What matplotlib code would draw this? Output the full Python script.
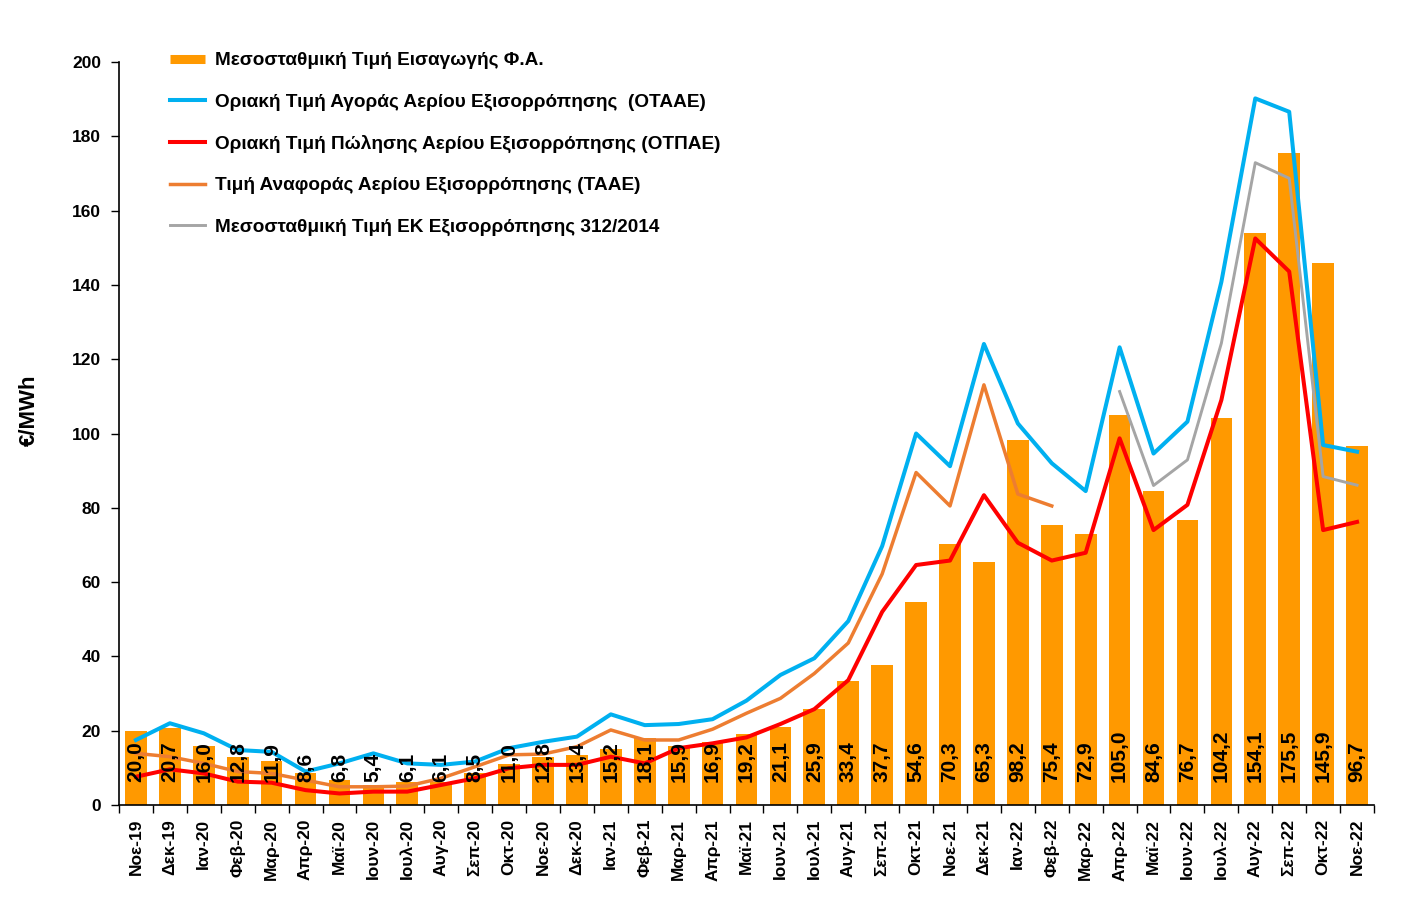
import matplotlib
matplotlib.use("Agg")
import matplotlib.pyplot as plt
from matplotlib.lines import Line2D
import numpy as np

plt.rcParams['font.family'] = ['Liberation Sans', 'DejaVu Sans']

categories = ["Νοε-19", "Δεκ-19", "Ιαν-20", "Φεβ-20", "Μαρ-20", "Απρ-20", "Μαϊ-20", "Ιουν-20",
              "Ιουλ-20", "Αυγ-20", "Σεπ-20", "Οκτ-20", "Νοε-20", "Δεκ-20", "Ιαν-21", "Φεβ-21",
              "Μαρ-21", "Απρ-21", "Μαϊ-21", "Ιουν-21", "Ιουλ-21", "Αυγ-21", "Σεπ-21", "Οκτ-21",
              "Νοε-21", "Δεκ-21", "Ιαν-22", "Φεβ-22", "Μαρ-22", "Απρ-22", "Μαϊ-22", "Ιουν-22",
              "Ιουλ-22", "Αυγ-22", "Σεπ-22", "Οκτ-22", "Νοε-22"]

import_price = [20.0, 20.7, 16.0, 12.8, 11.9, 8.6, 6.8, 5.4, 6.1, 6.1, 8.5, 11.0, 12.8, 13.4,
                15.2, 18.1, 15.9, 16.9, 19.2, 21.1, 25.9, 33.4, 37.7, 54.6, 70.3, 65.3, 98.2,
                75.4, 72.9, 105.0, 84.6, 76.7, 104.2, 154.1, 175.5, 145.9, 96.7]

otaae = [17.5, 22.0, 19.3, 14.8, 14.3, 9.0, 11.2, 13.9, 11.2, 10.8, 11.7, 15.3, 17.0, 18.4,
         24.4, 21.5, 21.8, 23.1, 28.1, 35.0, 39.5, 49.5, 69.7, 100.0, 91.2, 124.1, 102.7,
         92.0, 84.5, 123.2, 94.6, 103.2, 140.8, 190.2, 186.6, 96.9, 95.1]

otpae = [7.6, 9.6, 8.5, 6.3, 6.0, 4.0, 3.1, 3.6, 3.6, 5.4, 7.2, 9.9, 10.8, 10.8,
         13.0, 11.2, 15.3, 16.6, 18.2, 21.8, 25.8, 33.6, 52.0, 64.6, 65.8, 83.4, 70.6,
         65.8, 67.9, 98.7, 74.0, 80.8, 109.0, 152.5, 143.6, 74.0, 76.2]

taae = [13.9, 13.0, 11.2, 9.0, 8.5, 6.7, 4.9, 4.9, 5.1, 7.2, 10.3, 13.5, 13.7, 15.7,
        20.2, 17.5, 17.5, 20.4, 24.7, 28.7, 35.4, 43.6, 62.2, 89.5, 80.5, 113.1, 83.7,
        80.5, None, None, None, None, None, None, None, None, None]

ek = [None] * 29 + [111.3, 86.0, 92.9, 124.3, 172.9, 168.7, 88.4, 86.1]

labels = ["Μεσοσταθμική Τιμή Εισαγωγής Φ.Α.",
          "Οριακή Τιμή Αγοράς Αερίου Εξισορρόπησης  (ΟΤΑΑΕ)",
          "Οριακή Τιμή Πώλησης Αερίου Εξισορρόπησης (ΟΤΠΑΕ)",
          "Τιμή Αναφοράς Αερίου Εξισορρόπησης (ΤΑΑΕ)",
          "Μεσοσταθμική Τιμή ΕΚ Εξισορρόπησης 312/2014"]

c_bar = "#FF9900"
c_blue = "#00B0F0"
c_red = "#FF0000"
c_orange = "#ED7D31"
c_gray = "#A5A5A5"

def arr(v):
    return np.array([np.nan if x is None else x for x in v], dtype=float)

fig = plt.figure(figsize=(14.08, 9.02), dpi=100)
ax = fig.add_axes([119/1408, 1 - 805/902, (1374 - 119)/1408, (805 - 62)/902])

x = np.arange(len(categories))
ax.bar(x, import_price, width=0.64, color=c_bar, zorder=1)
ax.plot(x, arr(otaae), color=c_blue, lw=2.9, zorder=3)
ax.plot(x, arr(otpae), color=c_red, lw=2.9, zorder=3)
ax.plot(x, arr(taae), color=c_orange, lw=2.5, zorder=2)
ax.plot(x, arr(ek), color=c_gray, lw=2.1, zorder=2)

for xi, v in zip(x, import_price):
    ax.annotate(f"{v:.1f}".replace('.', ','), xy=(xi, 0), xytext=(0, 16.5),
                textcoords='offset points', rotation=90, ha='center', va='bottom',
                fontsize=15, fontweight='bold', color='black', zorder=4)

ax.set_xlim(-0.5, len(categories) - 0.5)
ax.set_ylim(0, 200)
ax.set_yticks(np.arange(0, 201, 20))
ax.set_xticks(x)
ax.set_xticklabels(categories, rotation=90, fontsize=12.5, fontweight='bold')
ax.set_xticks(np.arange(-0.5, len(categories), 1), minor=True)
ax.tick_params(axis='x', which='major', length=0, pad=10)
ax.tick_params(axis='x', which='minor', length=6, width=1, direction='out')
ax.tick_params(axis='y', length=6, width=1, direction='out', pad=7, labelsize=12.5)
for t in ax.get_yticklabels():
    t.set_fontweight('bold')
for s in ['top', 'right']:
    ax.spines[s].set_visible(False)
for s in ['left', 'bottom']:
    ax.spines[s].set_linewidth(1.2)

fig.text(29/1408, 1 - 410/902, "€/MWh", rotation=90, ha='center', va='center',
         fontsize=16, fontweight='bold')

handles = [Line2D([], [], color=c_bar, lw=6.5, solid_capstyle='butt'),
           Line2D([], [], color=c_blue, lw=2.9),
           Line2D([], [], color=c_red, lw=2.9),
           Line2D([], [], color=c_orange, lw=2.5),
           Line2D([], [], color=c_gray, lw=2.1)]
leg = fig.legend(handles, labels, loc='upper left', bbox_to_anchor=(170/1408, 1 - 52/902),
                 frameon=False, prop={'weight': 'bold', 'size': 13.7},
                 handlelength=1.85, handletextpad=0.5, labelspacing=1.26,
                 borderaxespad=0, borderpad=0)

fig.savefig("out.png", dpi=100)
